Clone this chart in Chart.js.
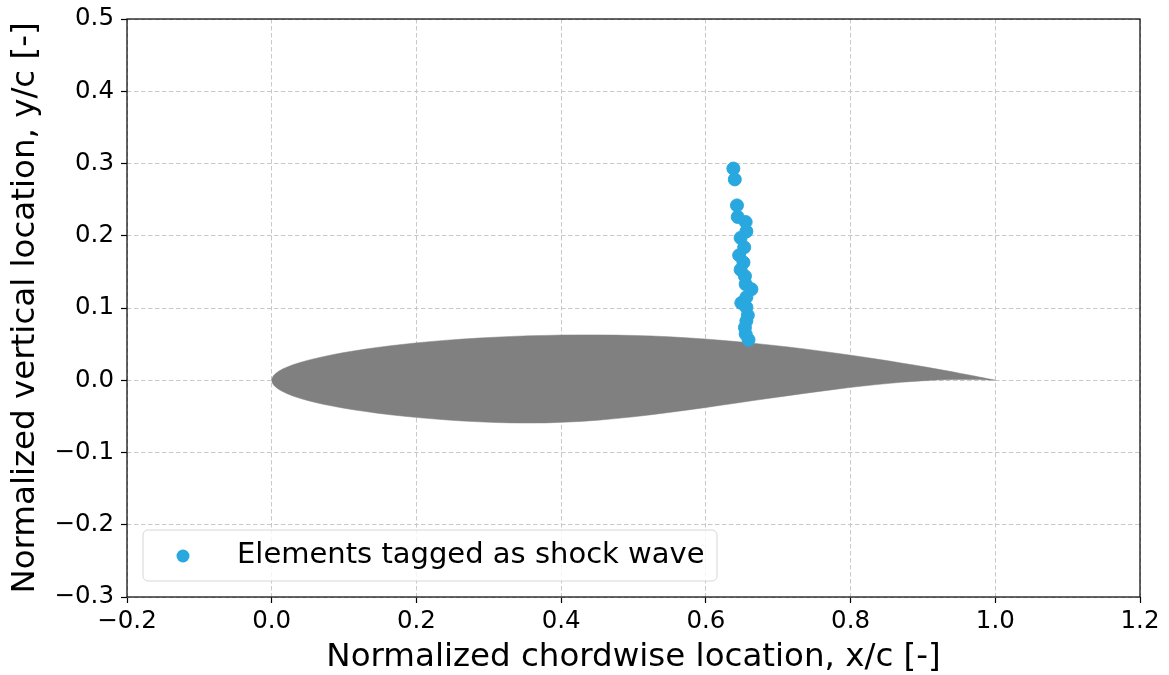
<!DOCTYPE html>
<html>
<head>
<meta charset="utf-8">
<script src="https://cdn.jsdelivr.net/npm/chart.js@4.4.0/dist/chart.umd.min.js"></script>
<style>
  html, body { margin: 0; padding: 0; background: #fff; }
  #wrap { width: 1169px; height: 675px; }
</style>
</head>
<body>
<div id="wrap"><canvas id="airfoilChart" width="1169" height="675"></canvas></div>
<script>
// shock wave elements (x/c, y/c)
const shockX = [0.638, 0.640, 0.643, 0.644, 0.655, 0.656, 0.648, 0.653, 0.646, 0.652, 0.648, 0.654,
                0.655, 0.663, 0.656, 0.649, 0.656, 0.658, 0.656, 0.654, 0.655, 0.659];
const shockY = [0.293, 0.278, 0.242, 0.226, 0.219, 0.206, 0.197, 0.184, 0.173, 0.163, 0.153, 0.144,
                0.133, 0.126, 0.115, 0.107, 0.101, 0.090, 0.082, 0.073, 0.064, 0.056];

// airfoil contour, both surfaces on the same x stations
const foilX = [0.0, 0.0006, 0.0024, 0.0054, 0.0096, 0.015, 0.0215, 0.0292, 0.038, 0.048, 0.059, 0.071,
               0.084, 0.098, 0.113, 0.130, 0.146, 0.164, 0.183, 0.202, 0.222, 0.243, 0.264, 0.286,
               0.309, 0.332, 0.355, 0.379, 0.402, 0.427, 0.451, 0.475, 0.500, 0.525, 0.549, 0.573,
               0.598, 0.621, 0.645, 0.668, 0.691, 0.714, 0.736, 0.757, 0.778, 0.798, 0.817, 0.836,
               0.854, 0.870, 0.887, 0.902, 0.916, 0.929, 0.941, 0.952, 0.962, 0.971, 0.978, 0.985,
               0.990, 0.995, 0.998, 1.0];
const foilUpper = [0.0, 0.0032, 0.0063, 0.0094, 0.0125, 0.0155, 0.0184, 0.0213, 0.0242, 0.0271, 0.0299, 0.0326,
                   0.0354, 0.0380, 0.0406, 0.0431, 0.0455, 0.0477, 0.0499, 0.0519, 0.0538, 0.0555, 0.0570, 0.0584,
                   0.0596, 0.0607, 0.0615, 0.0621, 0.0626, 0.0628, 0.0628, 0.0625, 0.0620, 0.0613, 0.0602, 0.0588,
                   0.0572, 0.0553, 0.0533, 0.0510, 0.0486, 0.0460, 0.0434, 0.0406, 0.0378, 0.0350, 0.0322, 0.0293,
                   0.0266, 0.0238, 0.0212, 0.0186, 0.0161, 0.0138, 0.0116, 0.0095, 0.0076, 0.0059, 0.0044, 0.0031,
                   0.0020, 0.0011, 0.0005, 0.0];
const foilLower = [0.0, -0.0032, -0.0063, -0.0094, -0.0126, -0.0156, -0.0187, -0.0217, -0.0247, -0.0276, -0.0304, -0.0332,
                   -0.0358, -0.0384, -0.0409, -0.0433, -0.0456, -0.0478, -0.0498, -0.0517, -0.0534, -0.0550, -0.0564, -0.0575,
                   -0.0585, -0.0590, -0.0592, -0.0590, -0.0582, -0.0570, -0.0553, -0.0531, -0.0506, -0.0477, -0.0446, -0.0414,
                   -0.0380, -0.0346, -0.0312, -0.0278, -0.0245, -0.0213, -0.0182, -0.0154, -0.0127, -0.0102, -0.0080, -0.0060,
                   -0.0043, -0.0028, -0.0016, -0.0006, 0.0002, 0.0007, 0.0010, 0.0012, 0.0012, 0.0011, 0.0009, 0.0007,
                   0.0005, 0.0003, 0.0001, 0.0];

const xTicks = [-0.2, 0.0, 0.2, 0.4, 0.6, 0.8, 1.0, 1.2];
const yTicks = [-0.3, -0.2, -0.1, 0.0, 0.1, 0.2, 0.3, 0.4, 0.5];

const legendLabel = "Elements tagged as shock wave";
const shockColor = "rgb(41, 168, 224)";
const foilColor = "#808080";
const fontFamily = "'DejaVu Sans', sans-serif";

function fmt(v) {
    const s = v.toFixed(1);
    return v < 0 ? "\u2212" + s.slice(1) : s;
}

// frame + in-plot legend, matplotlib style
const framePlugin = {
    id: "frame",
    afterDraw(chart) {
        const { ctx, chartArea: a } = chart;
        ctx.save();
        ctx.strokeStyle = "#000";
        ctx.lineWidth = 1.2;
        ctx.setLineDash([]);
        ctx.strokeRect(a.left, a.top, a.right - a.left, a.bottom - a.top);

        // legend box
        const bx = a.left + 16, by = a.bottom - 67, bw = 574, bh = 51;
        ctx.beginPath();
        ctx.roundRect(bx, by, bw, bh, 5);
        ctx.fillStyle = "rgba(255,255,255,0.8)";
        ctx.fill();
        ctx.strokeStyle = "#d6d6d6";
        ctx.lineWidth = 1;
        ctx.stroke();
        ctx.beginPath();
        ctx.arc(bx + 40, by + 26, 6.5, 0, Math.PI * 2);
        ctx.fillStyle = shockColor;
        ctx.fill();
        ctx.fillStyle = "#000";
        ctx.font = "29px " + fontFamily;
        ctx.textBaseline = "middle";
        ctx.fillText(legendLabel, bx + 94, by + 25);
        ctx.restore();
    }
};

const chart = new Chart(document.getElementById("airfoilChart"), {
    type: "scatter",
    data: {
        datasets: [
            {
                label: legendLabel,
                data: shockX.map((x, i) => ({ x: x, y: shockY[i] })),
                backgroundColor: shockColor,
                borderColor: shockColor,
                pointRadius: 6.5,
                pointHoverRadius: 6.5,
                order: 0
            },
            {
                type: "line",
                label: "upper",
                data: foilX.map((x, i) => ({ x: x, y: foilUpper[i] })),
                backgroundColor: foilColor,
                borderColor: foilColor,
                borderWidth: 0.5,
                pointRadius: 0,
                tension: 0,
                fill: "+1",
                order: 1
            },
            {
                type: "line",
                label: "lower",
                data: foilX.map((x, i) => ({ x: x, y: foilLower[i] })),
                backgroundColor: foilColor,
                borderColor: foilColor,
                borderWidth: 0.5,
                pointRadius: 0,
                tension: 0,
                fill: false,
                order: 2
            }
        ]
    },
    options: {
        responsive: false,
        animation: false,
        layout: { padding: { top: 19, right: 29, left: 0, bottom: 0 } },
        plugins: {
            legend: { display: false },
            tooltip: { enabled: false }
        },
        scales: {
            x: {
                type: "linear",
                min: -0.2,
                max: 1.2,
                afterBuildTicks: axis => { axis.ticks = xTicks.map(v => ({ value: v })); },
                afterFit: axis => { axis.height = 78; axis.paddingLeft = 0; axis.paddingRight = 0; },
                ticks: {
                    color: "#000",
                    font: { family: fontFamily, size: 24.5 },
                    padding: 4,
                    maxRotation: 0,
                    callback: v => fmt(v)
                },
                grid: {
                    color: "#c8c8c8",
                    lineWidth: 1,
                    tickColor: "#000",
                    tickLength: 6,
                    tickWidth: 1.2,
                    tickBorderDash: []
                },
                border: { display: false, dash: [4.5, 2.5] },
                title: {
                    display: true,
                    text: "Normalized chordwise location, x/c [-]",
                    color: "#000",
                    font: { family: fontFamily, size: 32.5 },
                    padding: { top: 0, bottom: -2 }
                }
            },
            y: {
                type: "linear",
                min: -0.3,
                max: 0.5,
                afterBuildTicks: axis => { axis.ticks = yTicks.map(v => ({ value: v })); },
                afterFit: axis => { axis.width = 127; axis.paddingTop = 0; axis.paddingBottom = 0; },
                ticks: {
                    color: "#000",
                    font: { family: fontFamily, size: 24.5 },
                    padding: 7,
                    callback: v => fmt(v)
                },
                grid: {
                    color: "#c8c8c8",
                    lineWidth: 1,
                    tickColor: "#000",
                    tickLength: 6,
                    tickWidth: 1.2,
                    tickBorderDash: []
                },
                border: { display: false, dash: [4.5, 2.5] },
                title: {
                    display: true,
                    text: "Normalized vertical location, y/c [-]",
                    color: "#000",
                    font: { family: fontFamily, size: 32.5 },
                    padding: { top: 6, bottom: 0 }
                }
            }
        }
    },
    plugins: [framePlugin]
});
</script>
</body>
</html>
